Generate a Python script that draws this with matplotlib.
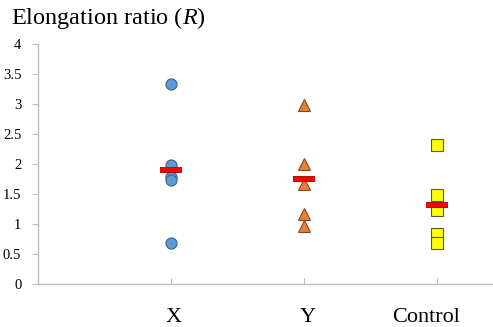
import matplotlib.pyplot as plt
import matplotlib.patheffects as pe
import matplotlib.transforms as mtrans
import numpy as np

plt.rcParams['font.family'] = ['Liberation Serif', 'DejaVu Serif']
plt.rcParams['mathtext.fontset'] = 'custom'
plt.rcParams['mathtext.rm'] = 'Liberation Serif'
plt.rcParams['mathtext.it'] = 'Liberation Serif:italic'

groups = ['X', 'Y', 'Control']
label_pos = [1.02, 2.03, 2.92]
x_vals = [3.33, 1.99, 1.79, 1.74, 0.69]
y_vals = [2.98, 2.00, 1.67, 1.17, 0.97]
ctrl_vals = [2.32, 1.48, 1.23, 0.84, 0.69]

series = [x_vals, y_vals, ctrl_vals]
markers = ['o', '^', 's']
faces = ['#5B9BD5', '#ED7D31', '#FFFF00']
edges = ['#41628a', '#7a4a2a', '#5a5a3a']
sizes = [8, 8.5, 8]

fig = plt.figure(figsize=(4.93, 3.27), dpi=100)
ax = fig.add_axes([0.0771, 0.1315, 0.9229, 0.7339])

for i, vals in enumerate(series):
    pos = i + 1
    ax.plot([pos] * len(vals), vals, linestyle='none', marker=markers[i],
            markersize=sizes[i], markerfacecolor=faces[i],
            markeredgecolor=edges[i], markeredgewidth=0.8, zorder=3)
    m = np.mean(vals)
    # marca de la media
    ax.hlines(m, pos - 0.08, pos + 0.08, color='#FF0000', linewidth=3.2,
              zorder=4,
              path_effects=[pe.Stroke(linewidth=4.3, foreground='#8b1a1a'),
                            pe.Normal()])

ax.set_xlim(0, 3.42)
ax.set_ylim(0, 4)
ax.set_yticks(np.arange(0, 4.01, 0.5))
ax.set_yticklabels(['0', '0.5', '1', '1.5', '2', '2.5', '3', '3.5', '4'])
ax.set_xticks([1, 2, 3])
ax.set_xticklabels([])

trans = mtrans.blended_transform_factory(ax.transData, ax.transAxes)
for lp, g in zip(label_pos, groups):
    ax.text(lp, -0.158, g, transform=trans, fontsize=16, ha='center',
            va='baseline', clip_on=False)

for s in ['top', 'right']:
    ax.spines[s].set_visible(False)
for s in ['left', 'bottom']:
    ax.spines[s].set_color('#bfbfbf')
    ax.spines[s].set_linewidth(1)

ax.tick_params(axis='y', direction='out', length=4, color='#bfbfbf',
               labelsize=10.5, pad=8)
ax.tick_params(axis='x', direction='in', length=4, color='#bfbfbf')

fig.text(0.022, 0.945, 'Elongation ratio ($\\mathit{R}$)', fontsize=17.5,
         va='center', ha='left')

fig.savefig('out.png', dpi=100)
